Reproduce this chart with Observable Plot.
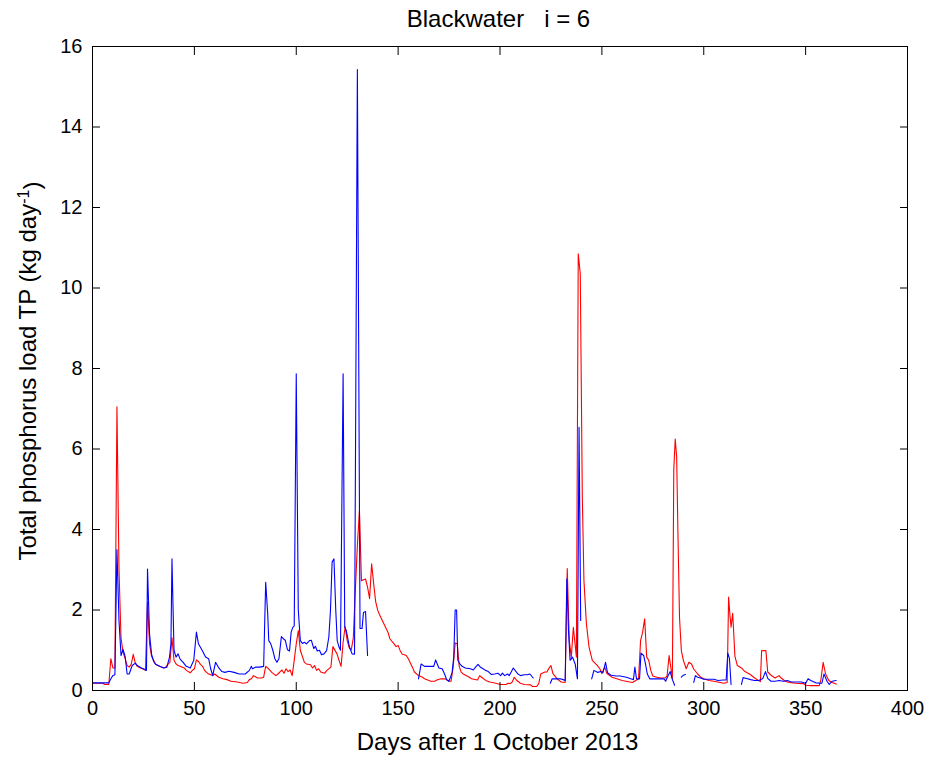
<!DOCTYPE html>
<html>
<head>
<meta charset="utf-8">
<script src="https://cdn.jsdelivr.net/npm/d3@7"></script>
<script src="https://cdn.jsdelivr.net/npm/@observablehq/plot@0.6"></script>
<style>
  html, body { margin: 0; padding: 0; background: #fff; }
</style>
</head>
<body>
<div id="chart"></div>
<script>
const titleText = "Blackwater   i = 6";
const xLabelText = "Days after 1 October 2013";
const yLabelMain = "Total phosphorus load TP (kg day";
const yLabelSup = "-1";
const yLabelEnd = ")";

const xTicks = [0, 50, 100, 150, 200, 250, 300, 350, 400];
const yTicks = [0, 2, 4, 6, 8, 10, 12, 14, 16];

// Red series (days, values)
const redDays = [0,5,6,8,9,10,11,12,13,14,15,16,17,18,19,20,21,22,23,24,25,26,27,28,29,30,31,32,33,35,36,37,38,39,40,41,42,43,45,46,48,49,50,51,52,53,54,55,56,57,59,60,62,64,66,68,71,74,76,77,78,79,81,83,84,85,86,88,90,91,93,94,95,96,97,98,99,100,101,102,104,105,107,108,109,110,111,112,114,115,117,118,120,121,122,123,124,125,126,127,128,129,130,131,132,133,134,135,136,137,138,139,140,141,143,145,146,148,149,150,151,152,153,154,155,157,158,160,162,163,166,168,169,171,173,175,176,177,178,179,180,181,182,185,186,189,190,191,193,195,198,200,203,204,205,206,207,208,210,212,215,216,218,219,220,222,223,224,225,226,228,230,232,233,234,235,236,237.5,238.4,239.4,240.4,241.2,242.4,243.7,245.3,247.8,249,250,251.4,252.5,255,260,265,268,269,270,271,272,273,274,275,277,279,281,282,283,284.6,285.3,286,286.7,287.3,288.1,289,290,291.4,292.7,294,295,297,298.5,300,302.5,305,308,310,311.5,312.2,312.8,313.4,314.2,315.3,316.5,318.5,320,322.4,323,325,326.5,327.8,328.4,330.5,331.4,333,335,337,338,340,342,345,349,350,353,356.7,357.5,358.6,359.8,361.4,363,365];
const redVals = [0.18,0.18,0.15,0.15,0.79,0.56,0.56,7.05,3.0,1.3,0.95,0.8,0.62,0.58,0.65,0.9,0.68,0.6,0.57,0.55,0.53,0.5,2.19,1.16,0.85,0.75,0.65,0.62,0.6,0.56,0.58,0.65,0.7,1.31,0.75,0.66,0.62,0.6,0.56,0.5,0.44,0.5,0.54,0.76,0.72,0.65,0.6,0.5,0.45,0.41,0.37,0.41,0.33,0.29,0.27,0.23,0.21,0.18,0.2,0.27,0.29,0.37,0.31,0.31,0.33,0.6,0.56,0.45,0.37,0.41,0.51,0.43,0.54,0.47,0.51,0.37,0.75,1.16,1.49,1.0,0.7,0.66,0.64,0.56,0.62,0.5,0.54,0.46,0.43,0.5,0.58,1.09,0.91,0.75,0.6,1.2,1.59,1.24,1.06,1.01,1.3,2.5,3.6,4.47,2.73,2.75,2.77,2.57,2.28,3.15,2.65,2.2,1.99,1.87,1.66,1.45,1.28,1.16,1.09,1.12,0.99,0.9,0.89,0.87,0.79,0.58,0.46,0.37,0.33,0.29,0.23,0.23,0.26,0.29,0.29,0.23,0.23,0.58,1.18,1.16,0.6,0.45,0.41,0.33,0.29,0.26,0.37,0.33,0.25,0.21,0.18,0.15,0.15,0.18,0.17,0.21,0.33,0.26,0.18,0.15,0.14,0.1,0.1,0.17,0.41,0.46,0.46,0.55,0.62,0.42,0.29,0.21,0.2,3.03,1.24,0.83,1.57,0.83,10.85,10.35,4.8,2.73,1.66,1.08,0.75,0.62,0.54,0.42,0.58,0.42,0.33,0.25,0.2,0.29,1.24,1.45,1.78,0.83,0.75,0.5,0.36,0.33,0.31,0.31,0.36,0.87,0.3,5.5,6.25,5.8,4.0,1.82,0.99,0.75,0.54,0.7,0.66,0.54,0.41,0.33,0.29,0.25,0.23,0.2,0.18,0.2,2.32,1.9,1.57,1.92,0.85,0.62,0.56,0.48,0.41,0.39,0.31,0.26,0.22,0.99,0.99,0.46,0.38,0.31,0.37,0.31,0.23,0.2,0.18,0.17,0.13,0.12,0.12,0.27,0.7,0.41,0.25,0.2,0.16];

// Blue series (days, values); NaN marks gaps in the record
const blueDays = [0,8,9,10,11,12,13,14,15,16,17,18,19.5,21,22,24,25.5,26.5,27,28,29,30,31,33,35,36.5,37.8,38.5,39,40,41,42,43,44.5,46,48,49.7,51,52,53.8,55.5,57,58,59,60.4,62,63.5,65,67,69.5,72,75,77,78,78.5,80,82,84,85,86,86.5,87.5,88.5,89.5,90.5,91.5,92.7,93.8,94.6,95.7,96.7,97.5,98.3,99,100,101,102,103,104,105,106.5,107.4,108.6,109.4,110.3,111.4,112.4,113.6,114.9,116,116.8,117.6,118.5,119.4,120.1,121,121.7,123,123.8,124.5,125.2,126.1,127.4,128.6,130,131.3,132.3,133,134,135,136,160,161.3,163,165,167.5,168.4,169.2,170,171.6,172.8,173.8,174.9,175.7,176.5,177.3,178,178.7,179.3,180.3,181.4,183,185.5,186.9,188,189.2,190.4,191.7,192.9,194,195.7,197.4,199,200.3,201.2,202.3,203.7,204.5,205.5,206.5,207.7,208.8,210.1,211.8,213.5,214.7,216.3,220,224.7,225.6,227.5,229.5,231,232,232.8,233.6,234.4,235.6,236.9,238,238.8,239.6,242,245,246.1,248,249.5,250.5,251.8,252.8,254.5,257,259,262,264.2,265.5,266.2,267,268.5,269.2,270.5,271.4,272.3,273.5,275,278,280.5,281.3,282.3,283.5,284.5,285.7,287,289,290,291,293,295.1,295.9,297,298.4,300,302.5,305,307,309.5,311,311.8,312.6,313.4,316,318.5,319.3,321,323,325,327,329,330.3,331.4,333,335,337,339,341,343,345,348,350,351.2,352.5,355,358,359,360.5,361.6,363,365];
const blueVals = [0.19,0.19,0.29,0.37,0.39,3.5,1.74,0.87,1.02,0.85,0.41,0.41,0.62,0.68,0.62,0.56,0.53,0.5,3.02,1.4,0.9,0.72,0.65,0.6,0.56,0.58,0.83,1.16,3.27,1.0,0.83,0.91,0.78,0.7,0.6,0.56,0.75,1.45,1.16,1.0,0.83,0.79,0.54,0.37,0.7,0.56,0.47,0.45,0.48,0.45,0.41,0.41,0.5,0.6,0.54,0.58,0.58,0.6,2.69,1.9,1.24,1.16,1.0,0.79,0.7,0.79,1.34,1.28,1.25,1.01,0.98,1.45,1.57,1.6,7.87,2.0,1.24,1.17,1.2,1.16,1.24,1.25,1.04,1.1,0.98,1.0,0.89,0.91,0.99,1.33,1.99,3.19,3.27,1.99,1.24,1.08,1.0,7.87,1.57,1.5,1.32,1.08,0.91,0.9,15.43,1.54,1.54,1.94,1.96,0.87,NaN,0.29,0.66,0.6,0.6,0.6,0.76,0.66,0.56,0.54,0.41,0.27,0.23,0.33,0.45,0.83,2.0,2.0,0.75,0.66,0.6,0.56,0.54,0.51,0.58,0.65,0.58,0.54,0.5,0.48,0.4,0.41,0.43,0.37,0.43,0.37,0.41,0.37,0.46,0.56,0.48,0.41,0.37,0.39,0.39,0.41,0.31,NaN,0.18,0.29,0.29,0.29,0.27,0.25,2.77,1.5,0.75,0.83,0.66,0.29,6.54,1.74,NaN,0.29,0.5,0.45,0.47,0.44,0.7,0.44,0.38,0.36,0.36,0.33,0.29,0.27,0.58,0.29,0.29,0.93,0.87,0.66,0.41,0.29,0.29,0.29,0.29,0.23,0.35,0.47,0.29,0.13,NaN,0.33,0.38,0.4,NaN,0.2,0.37,0.33,0.31,0.28,0.28,0.28,0.25,0.26,0.26,0.93,0.8,0.15,NaN,0.15,0.32,0.3,0.27,0.25,0.25,0.3,0.47,0.3,0.23,0.23,0.25,0.23,0.25,0.21,0.21,0.21,0.18,0.29,0.25,0.19,0.18,0.41,0.23,0.15,0.23,0.25];

const red = redDays.map((d, i) => ({day: d, tp: redVals[i]}));
const blue = blueDays.map((d, i) => ({day: d, tp: blueVals[i]}));

const W = 933, H = 761;
const mL = 92, mR = 26, mT = 46, mB = 71;
const font = "'Liberation Sans', Arial, Helvetica, sans-serif";
const tickLen = 8;
const labelSize = 24;

const plot = Plot.plot({
  width: W,
  height: H,
  marginLeft: mL,
  marginRight: mR,
  marginTop: mT,
  marginBottom: mB,
  style: {fontFamily: font, fontSize: "20px", color: "black", background: "white", overflow: "visible"},
  x: {domain: [0, 400], ticks: xTicks, label: null},
  y: {domain: [0, 16], ticks: yTicks, label: null},
  marks: [
    Plot.line(red, {x: "day", y: "tp", stroke: "#ff0000", strokeWidth: 1.1}),
    Plot.line(blue, {x: "day", y: "tp", stroke: "#0000ff", strokeWidth: 1.1}),
    Plot.frame({stroke: "black", strokeWidth: 1}),
    // inward ticks on all four sides
    Plot.axisX({anchor: "bottom", ticks: xTicks, tickSize: tickLen, dy: -tickLen, text: null, label: null}),
    Plot.axisX({anchor: "top", ticks: xTicks, tickSize: tickLen, dy: tickLen, text: null, label: null}),
    Plot.axisY({anchor: "left", ticks: yTicks, tickSize: tickLen, dx: tickLen, text: null, label: null}),
    Plot.axisY({anchor: "right", ticks: yTicks, tickSize: tickLen, dx: -tickLen, text: null, label: null}),
    // tick labels
    Plot.axisX({anchor: "bottom", ticks: xTicks, tickSize: 0, tickPadding: 10, label: null, fontSize: 20}),
    Plot.axisY({anchor: "left", ticks: yTicks, tickSize: 0, tickPadding: 10, label: null, fontSize: 20})
  ]
});

const svg = d3.select(plot);
const cx = mL + (W - mL - mR) / 2;
const cy = mT + (H - mT - mB) / 2 + 3;

svg.append("text")
  .attr("x", cx - 1).attr("y", 27)
  .attr("text-anchor", "middle")
  .attr("font-family", font).attr("font-size", labelSize).attr("fill", "black")
  .attr("xml:space", "preserve")
  .style("white-space", "pre")
  .text(titleText);

svg.append("text")
  .attr("x", cx - 2).attr("y", 750)
  .attr("text-anchor", "middle")
  .attr("font-family", font).attr("font-size", labelSize).attr("fill", "black")
  .text(xLabelText);

const yl = svg.append("text")
  .attr("transform", `translate(36,${cy}) rotate(-90)`)
  .attr("text-anchor", "middle")
  .attr("font-family", font).attr("font-size", labelSize).attr("fill", "black");
yl.append("tspan").text(yLabelMain);
yl.append("tspan").attr("dy", "-0.45em").attr("font-size", 16).text(yLabelSup);
yl.append("tspan").attr("dy", "0.45em").text(yLabelEnd);

document.getElementById("chart").appendChild(plot);
</script>
</body>
</html>
